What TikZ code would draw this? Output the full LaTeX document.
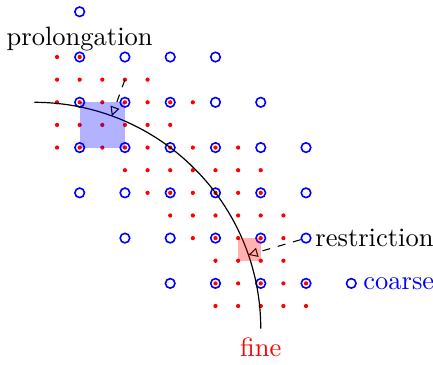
\documentclass[tikz,border=0pt]{standalone}
\usetikzlibrary{arrows.meta,calc}
\begin{document}
\begin{tikzpicture}[x=0.3cm,y=0.3cm,
  finedot/.style={fill=red},
  coarsept/.style={circle, draw=blue, line width=0.6pt, minimum size=3.6pt, inner sep=0pt},
  dasharrow/.style={dashed, line width=0.4pt, -{Triangle[open,length=3.5pt,width=3.5pt]}},
  curvestyle/.style={line width=0.45pt},
  lbl/.style={font=\normalsize}]
\useasboundingbox (-2.52,2.52) rectangle (16.61,-13.60);
% fine grid points
\foreach \j/\a/\b in {0/0/1, 1/0/4, 2/0/6, 3/0/5, 4/0/8, 5/3/9, 6/4/9, 7/5/10, 8/6/10, 9/7/10, 10/7/11, 11/7/11}
  \foreach \i in {\a,...,\b}
    \fill[finedot] (\i,-\j) circle[radius=0.8pt];
\coordinate (f31) at (3,-1);
% coarse grid points
\foreach \i/\j in {1/-2, 1/0,3/0,5/0,7/0, 1/2,3/2,5/2,7/2,9/2, 1/4,3/4,5/4,7/4,9/4,11/4,
                   1/6,3/6,5/6,7/6,9/6,11/6, 3/8,5/8,7/8,9/8,11/8, 5/10,7/10,9/10,11/10}
  \node[coarsept] (c-\i-\j) at (\i,-\j) {};
% legend circle
\node[coarsept] (cL) at (13,-10) {};
% interface curve
\coordinate (cc) at (-1,-12);
\coordinate (arcS) at (-1,-2);
\draw[curvestyle] (arcS) arc[start angle=90,end angle=0,radius=10] coordinate (arcE);
\coordinate (p1) at ($(cc)+(70:10)$);
\coordinate (p2) at ($(cc)+(19:10)$);
% arrows
\draw[dasharrow] (f31) -- (p1);
\draw[dasharrow] (c-11-8) -- (p2);
% cells
\fill[blue, opacity=0.3] (1,-2) rectangle (3,-4);
\fill[red, opacity=0.3] (8,-8) rectangle (9,-9);
% labels
\node[lbl, anchor=north] (tP) at (c-1--2.south) {prolongation};
\node[lbl, anchor=west] (tR) at (c-11-8.center) {restriction};
\node[lbl, anchor=west, text=blue, xshift=1pt] (tC) at (cL.center) {coarse};
\node[lbl, anchor=north, text=red] (tF) at (arcE) {fine};
\end{tikzpicture}
\end{document}
